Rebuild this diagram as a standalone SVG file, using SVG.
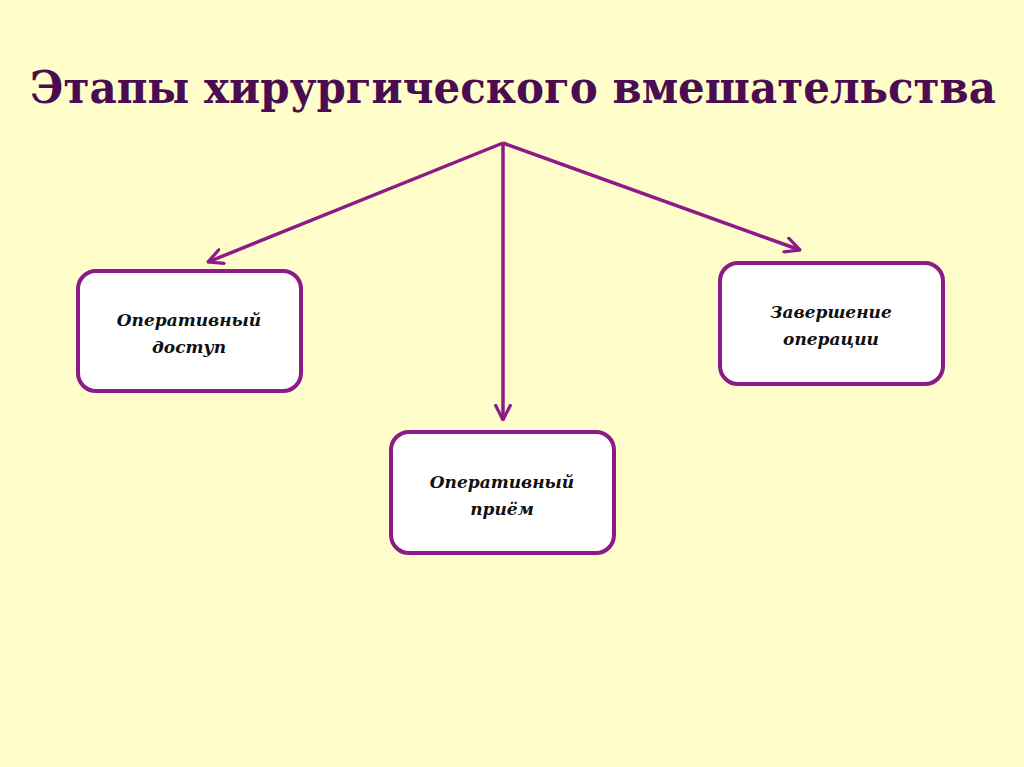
<svg xmlns="http://www.w3.org/2000/svg" width="1024" height="767" viewBox="0 0 1024 767">
<style>
.box{fill:#fff;stroke:#8e1a87;stroke-width:4}
.lbl{font-family:"DejaVu Serif","Liberation Serif",serif;font-style:italic;font-weight:bold;font-size:17px;fill:#111;text-anchor:middle}
.con{stroke:#8e1a87;stroke-width:3.5;fill:none}
</style>
<defs><marker id="ah" viewBox="0 0 12 12" refX="11" refY="6" markerWidth="5" markerHeight="5" orient="auto" markerUnits="strokeWidth"><path d="M1,1 L11,6 L1,11" fill="none" stroke="#8e1a87" stroke-width="2.2" stroke-linecap="round"/></marker></defs>
<rect width="1024" height="767" fill="#fffdc9"/>
<text x="30" y="103" textLength="966" lengthAdjust="spacingAndGlyphs" font-family="DejaVu Serif,Liberation Serif,serif" font-weight="bold" font-size="44" fill="#4b0d52">Этапы хирургического вмешательства</text>
<g id="connectors">
<path class="con" d="M503,143 L208,262" marker-end="url(#ah)"/>
<path class="con" d="M503,143 L503,420" marker-end="url(#ah)"/>
<path class="con" d="M503,143 L800,250" marker-end="url(#ah)"/>
</g>
<g id="n1"><rect class="box" x="78" y="271" width="223" height="120" rx="18"/><text class="lbl" x="189" y="326">Оперативный</text><text class="lbl" x="189" y="353">доступ</text></g>
<g id="n2"><rect class="box" x="391" y="432" width="223" height="121" rx="18"/><text class="lbl" x="502" y="488">Оперативный</text><text class="lbl" x="502" y="515">приём</text></g>
<g id="n3"><rect class="box" x="720" y="263" width="223" height="121" rx="18"/><text class="lbl" x="831" y="318">Завершение</text><text class="lbl" x="831" y="345">операции</text></g>
</svg>
